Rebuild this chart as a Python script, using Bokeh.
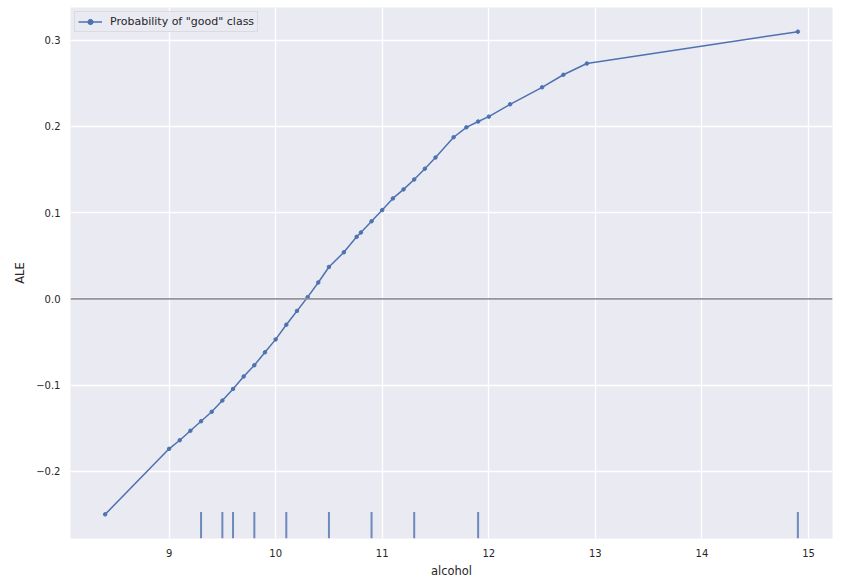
from bokeh.plotting import figure
from bokeh.models import (Range1d, FixedTicker, CustomJSTickFormatter, Span, Legend,
                          LegendItem, ColumnDataSource)
from bokeh.embed import file_html
from bokeh.resources import INLINE

# ---- data ----
alcohol = [8.4, 9.0, 9.1, 9.2, 9.3, 9.4, 9.5, 9.6, 9.7, 9.8, 9.9, 10.0, 10.1, 10.2,
           10.3, 10.4, 10.5, 10.64, 10.76, 10.8, 10.9, 11.0, 11.1, 11.2, 11.3, 11.4,
           11.5, 11.67, 11.79, 11.9, 12.0, 12.2, 12.5, 12.7, 12.92, 14.9]
ale = [-0.250, -0.174, -0.164, -0.153, -0.142, -0.131, -0.118, -0.1045, -0.090,
       -0.077, -0.062, -0.047, -0.030, -0.014, 0.002, 0.019, 0.037, 0.054, 0.072,
       0.077, 0.090, 0.103, 0.1165, 0.127, 0.1385, 0.151, 0.164, 0.1875, 0.199,
       0.2057, 0.2114, 0.2257, 0.2454, 0.260, 0.273, 0.310]
deciles = [9.3, 9.5, 9.6, 9.8, 10.1, 10.5, 10.9, 11.3, 11.9, 14.9]
x_ticks = [9, 10, 11, 12, 13, 14, 15]
y_ticks = [-0.2, -0.1, 0.0, 0.1, 0.2, 0.3]
series_label = 'Probability of "good" class'

FONT = "DejaVu Sans"
TXT = "#262626"
BLUE = "#4c72b0"

xspan = max(alcohol) - min(alcohol)
yspan = max(ale) - min(ale)
x_range = Range1d(min(alcohol) - 0.05 * xspan, max(alcohol) + 0.05 * xspan)
y_range = Range1d(min(ale) - 0.05 * yspan, max(ale) + 0.05 * yspan)

p = figure(width=851, height=580, x_range=x_range, y_range=y_range,
           output_backend="svg", toolbar_location=None,
           min_border_left=70, min_border_right=19, min_border_top=7,
           min_border_bottom=40)
p.background_fill_color = "#eaeaf2"
p.border_fill_color = "white"
p.outline_line_color = None

for g in (p.xgrid, p.ygrid):
    g.grid_line_color = "white"
    g.grid_line_width = 1.3
p.xgrid.ticker = FixedTicker(ticks=x_ticks)
p.ygrid.ticker = FixedTicker(ticks=y_ticks)

p.xaxis.ticker = FixedTicker(ticks=x_ticks)
p.yaxis.ticker = FixedTicker(ticks=y_ticks)
p.yaxis.formatter = CustomJSTickFormatter(
    code="return tick.toFixed(1).replace('-', '\u2212');")

for ax in (p.xaxis, p.yaxis):
    ax.axis_line_color = None
    ax.major_tick_line_color = None
    ax.minor_tick_line_color = None
    ax.major_tick_out = 0
    ax.major_tick_in = 0
    ax.major_label_text_font = FONT
    ax.major_label_text_font_size = "10px"
    ax.major_label_text_color = TXT
    ax.axis_label_text_font = FONT
    ax.axis_label_text_font_size = "11.5px"
    ax.axis_label_text_font_style = "normal"
    ax.axis_label_text_color = TXT
    ax.major_label_standoff = 10

p.xaxis.axis_label = "alcohol"
p.yaxis.axis_label = "ALE"
p.xaxis.axis_label_standoff = 4
p.yaxis.axis_label_standoff = 6

# zero line
p.add_layout(Span(location=0, dimension="width", line_color="#959597", line_width=1.6))

# rug of deciles (5% of axes height from the bottom)
r_y0 = y_range.start
r_y1 = y_range.start + 0.05 * (y_range.end - y_range.start)
p.segment(x0=deciles, y0=[r_y0] * len(deciles), x1=deciles, y1=[r_y1] * len(deciles),
          line_color=BLUE, line_alpha=0.8, line_width=2)

src = ColumnDataSource(dict(x=alcohol, y=ale))
lr = p.line("x", "y", source=src, line_color=BLUE, line_width=1.5)
sr = p.scatter("x", "y", source=src, size=3.5, fill_color=BLUE, line_color=BLUE)

legend = Legend(items=[LegendItem(label=series_label, renderers=[lr, sr])],
                location="top_left")
legend.margin = 4
legend.padding = 3
legend.spacing = 0
legend.label_text_font = FONT
legend.label_text_font_size = "11px"
legend.label_text_color = TXT
legend.label_height = 13
legend.glyph_height = 13
legend.glyph_width = 24
legend.label_standoff = 8
legend.background_fill_color = "#eaeaf2"
legend.background_fill_alpha = 0.8
legend.border_line_color = "#cccccc"
legend.border_line_width = 1
p.add_layout(legend)

open("out.html", "w").write(file_html(p, INLINE))
